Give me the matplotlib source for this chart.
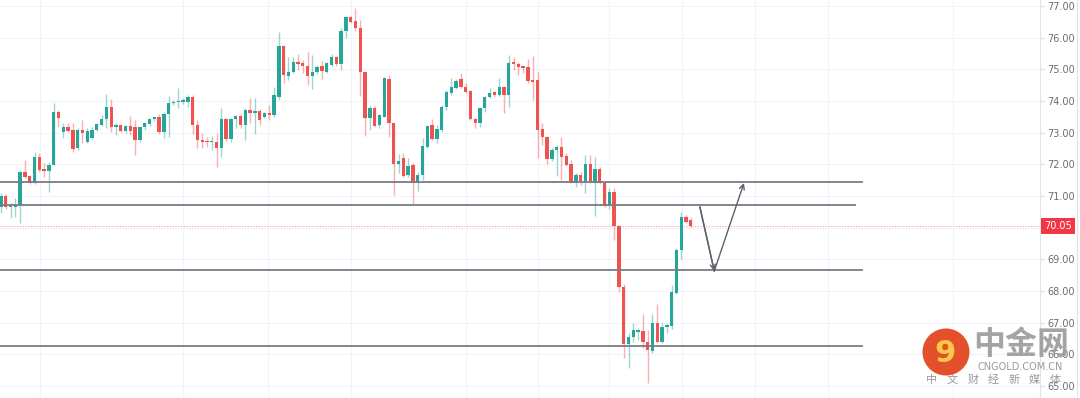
import matplotlib.pyplot as plt
from matplotlib.patches import Circle
from matplotlib.colors import to_rgba
import numpy as np

plt.rcParams['font.family'] = ['DejaVu Sans']

# candle data (one candle per bar, oldest first)
opens = [70.65, 71.00, 70.65, 70.66, 70.70, 71.76, 71.63, 71.41, 72.23, 71.85,
         71.79, 71.98, 73.65, 73.02, 73.18, 73.10, 72.52, 73.10, 72.70, 72.83,
         73.10, 73.24, 73.43, 73.81, 73.18, 73.24, 73.05, 73.20, 73.19, 72.77,
         73.18, 73.27, 73.42, 73.50, 73.03, 73.60, 73.93, 73.96, 73.98, 73.98,
         74.13, 73.24, 72.76, 72.72, 72.70, 72.72, 72.51, 73.42, 72.79, 73.42,
         73.53, 73.24, 73.72, 73.62, 73.70, 73.48, 73.63, 73.56, 74.14, 75.74,
         74.79, 74.93, 75.24, 75.21, 75.10, 74.79, 74.93, 75.10, 74.93, 75.14,
         75.40, 75.16, 76.22, 76.64, 76.54, 76.30, 74.93, 73.45, 73.77, 73.24,
         73.50, 74.69, 73.32, 72.00, 72.19, 71.66, 71.98, 71.41, 71.66, 72.55,
         73.24, 72.80, 73.08, 73.81, 74.25, 74.41, 74.69, 74.44, 74.32, 73.43,
         73.30, 73.78, 74.13, 74.28, 74.19, 74.44, 74.19, 75.23, 75.17, 75.10,
         75.07, 74.66, 74.66, 73.11, 72.86, 72.17, 72.45, 72.55, 72.26, 72.01,
         71.41, 71.66, 71.44, 72.01, 71.41, 71.85, 71.41, 70.72, 71.13, 70.05,
         68.13, 66.33, 66.55, 66.72, 66.74, 66.39, 66.10, 66.99, 66.39, 66.86,
         66.90, 67.94, 69.30, 70.34, 70.24]
highs = [71.10, 71.05, 70.78, 70.94, 71.82, 72.14, 71.66, 72.39, 72.36, 72.04,
         72.07, 73.94, 73.72, 73.30, 73.30, 73.30, 73.14, 73.40, 73.14, 73.18,
         73.30, 73.56, 74.22, 74.06, 73.30, 73.27, 73.24, 73.53, 73.40, 73.22,
         73.35, 73.47, 73.50, 73.58, 73.66, 74.15, 74.02, 74.40, 74.10, 74.20,
         74.18, 73.40, 73.00, 72.85, 72.88, 73.00, 73.78, 73.47, 73.47, 73.56,
         73.58, 73.78, 74.09, 74.09, 73.75, 73.66, 73.87, 74.45, 76.19, 75.77,
         75.38, 75.38, 75.50, 75.29, 75.56, 75.45, 75.15, 75.25, 75.22, 75.50,
         75.43, 76.30, 76.68, 76.69, 76.93, 76.56, 74.95, 73.83, 73.83, 73.60,
         74.75, 74.82, 73.32, 72.33, 72.36, 72.20, 72.04, 71.76, 72.83, 73.24,
         73.43, 73.24, 73.87, 74.35, 74.73, 74.70, 74.88, 74.57, 74.35, 73.45,
         73.81, 74.16, 74.41, 74.32, 74.73, 74.47, 75.45, 75.39, 75.23, 75.14,
         75.33, 75.42, 74.92, 73.30, 72.90, 72.55, 72.61, 72.86, 72.36, 72.14,
         71.72, 71.76, 72.29, 72.29, 72.23, 71.92, 71.44, 71.25, 71.25, 70.08,
         68.22, 66.67, 66.99, 66.83, 67.27, 66.77, 67.27, 67.59, 66.99, 66.99,
         68.19, 69.36, 70.49, 70.40, 70.34]
lows = [70.45, 70.60, 70.30, 70.34, 70.15, 71.57, 71.38, 71.38, 71.76, 71.60,
        71.13, 71.98, 73.18, 72.83, 73.02, 72.39, 72.45, 72.67, 72.67, 72.80,
        73.05, 73.20, 73.14, 73.02, 72.92, 73.02, 72.99, 72.92, 72.29, 72.70,
        73.10, 73.20, 73.38, 72.95, 72.83, 72.85, 73.88, 73.77, 73.90, 73.80,
        72.95, 72.50, 72.50, 72.55, 72.45, 71.93, 72.24, 72.75, 72.72, 73.15,
        73.15, 72.77, 73.30, 72.95, 73.25, 73.45, 73.40, 73.50, 74.03, 74.57,
        74.66, 74.90, 74.98, 74.90, 74.50, 74.37, 74.85, 74.70, 74.90, 75.10,
        75.10, 74.98, 76.00, 76.45, 76.22, 74.15, 72.90, 73.10, 73.18, 73.14,
        73.48, 72.87, 71.03, 71.73, 71.60, 71.60, 70.75, 71.16, 71.50, 72.52,
        72.77, 72.67, 73.02, 73.72, 74.20, 74.38, 74.41, 74.25, 73.40, 73.14,
        73.18, 73.65, 74.10, 74.13, 74.16, 73.62, 73.81, 74.98, 74.82, 74.88,
        74.57, 74.03, 72.20, 72.61, 72.01, 72.10, 71.63, 71.50, 71.95, 71.41,
        71.28, 71.35, 71.09, 71.41, 70.37, 71.38, 70.65, 70.59, 69.61, 67.97,
        65.88, 65.57, 66.39, 66.45, 66.20, 65.09, 66.04, 66.36, 66.36, 66.67,
        66.80, 67.90, 69.00, 70.15, 70.02]
closes = [71.00, 70.65, 70.68, 70.72, 71.76, 71.60, 71.41, 72.23, 71.82, 71.79,
          71.98, 73.65, 73.46, 73.18, 73.05, 72.48, 73.10, 72.99, 73.05, 73.10,
          73.27, 73.43, 73.81, 73.18, 73.24, 73.05, 73.20, 73.05, 72.77, 73.18,
          73.30, 73.43, 73.48, 73.03, 73.60, 73.93, 73.98, 74.01, 74.03, 74.13,
          73.23, 72.76, 72.72, 72.70, 72.74, 72.51, 73.42, 72.79, 73.42, 73.53,
          73.24, 73.72, 73.62, 73.68, 73.40, 73.63, 73.56, 74.19, 75.74, 74.82,
          74.93, 75.24, 75.17, 75.10, 74.79, 74.93, 75.06, 74.96, 75.19, 75.40,
          75.16, 76.22, 76.64, 76.50, 76.30, 74.93, 73.45, 73.77, 73.21, 73.56,
          74.72, 73.30, 72.01, 72.10, 71.63, 71.95, 71.41, 71.66, 72.58, 73.21,
          72.80, 73.12, 73.81, 74.28, 74.44, 74.63, 74.44, 74.28, 73.43, 73.30,
          73.78, 74.13, 74.25, 74.19, 74.44, 74.19, 75.20, 75.17, 75.07, 75.05,
          74.63, 74.60, 73.08, 72.86, 72.17, 72.45, 72.55, 72.23, 71.98, 71.41,
          71.66, 71.47, 72.01, 71.44, 71.85, 71.41, 70.68, 71.13, 70.05, 68.13,
          66.33, 66.55, 66.77, 66.77, 66.39, 66.14, 66.99, 66.39, 66.86, 66.93,
          67.97, 69.30, 70.34, 70.18, 70.05]

# horizontal support / resistance levels and where each one stops (bar index)
levels = [71.44, 70.72, 68.66, 66.26]
level_ends = [179.7, 178.3, 179.7, 179.7]

# hand-drawn arrow path (bar index, price)
arrow_x = [145.9, 148.9, 155.1]
arrow_y = [70.65, 68.63, 71.41]

price_ticks = [65, 66, 67, 68, 69, 71, 72, 73, 74, 75, 76, 77]
vgrid = [8.1, 38, 55.7, 73, 97, 112, 127, 142.2, 157.4, 172.6, 198.8]

up, down = '#26a69a', '#ef5350'

fig = plt.figure(figsize=(10.8, 3.98), dpi=100)
ax = fig.add_axes([0, 0, 1040 / 1080, 1])

x = np.arange(len(opens))
o, h, l, c = map(np.array, (opens, highs, lows, closes))
cols = np.where(c >= o, up, down)

for p in range(65, 78):
    ax.axhline(p, color='#f0f3fa', lw=0.8, zorder=0)
for v in vgrid:
    ax.axvline(v, color='#f0f3fa', lw=0.8, zorder=0)

ax.vlines(x, l, h, colors=[to_rgba(k, 0.45) for k in cols], lw=1.0, zorder=2)
body = np.maximum(np.abs(c - o), 0.04)
ax.bar(x, body, bottom=np.minimum(o, c), width=0.7, color=cols, zorder=3)

for lv, end in zip(levels, level_ends):
    ax.plot([-1, end], [lv, lv], color='#787b86', lw=1.3, zorder=4)

ax.axhline(closes[-1], color='#f7a3a8', lw=0.8, ls=(0, (1, 1.5)), zorder=1)

ax.plot(arrow_x[:2], arrow_y[:2], color='#5d606b', lw=1.0, zorder=5)
ax.annotate('', xy=(arrow_x[1], arrow_y[1]), xytext=(arrow_x[0], arrow_y[0]),
            arrowprops=dict(arrowstyle='->', color='#5d606b', lw=1.0,
                            mutation_scale=9, shrinkA=0, shrinkB=0), zorder=5)
ax.annotate('', xy=(arrow_x[2], arrow_y[2]), xytext=(arrow_x[1], arrow_y[1]),
            arrowprops=dict(arrowstyle='->', color='#5d606b', lw=1.0,
                            mutation_scale=9, shrinkA=0, shrinkB=0), zorder=5)

ax.set_xlim(-0.21, 216.9)
ax.set_ylim(64.62, 77.19)
ax.set_xticks([])
ax.yaxis.tick_right()
ax.set_yticks(price_ticks)
ax.set_yticklabels([f'{p:.2f}' for p in price_ticks])
ax.tick_params(axis='y', length=3, width=0.6, color='#d1d4dc', pad=2,
               labelsize=7, labelcolor='#6a6d78')
for s in ['top', 'left', 'bottom']:
    ax.spines[s].set_visible(False)
ax.spines['right'].set_color('#e0e3eb')
ax.spines['right'].set_linewidth(0.8)

ax.annotate(f'{closes[-1]:.2f}', xy=(1.0, closes[-1]),
            xycoords=('axes fraction', 'data'), xytext=(3, 0),
            textcoords='offset points', ha='left', va='center',
            color='white', fontsize=7,
            bbox=dict(boxstyle='square,pad=0.35', fc='#f23645', ec='none'),
            annotation_clip=False, zorder=6)

# watermark overlay in pixel coordinates
ov = fig.add_axes([0, 0, 1, 1], zorder=10)
ov.set_xlim(0, 1080)
ov.set_ylim(398, 0)
ov.axis('off')
ov.patch.set_alpha(0)
ov.axvline(1077, color='#e0e3eb', lw=0.8)
ov.add_patch(Circle((946, 352), 23.5, fc='#e2461f', ec='none', alpha=0.95))
ov.text(945, 353, '9', ha='center', va='center', fontsize=22,
        fontweight='bold', color='#f9c74a')
ov.text(1021, 345, '中金网', ha='center', va='center', fontsize=23,
        fontweight='bold', color='#9a9a9a', alpha=0.9,
        family=['Noto Sans CJK SC', 'DejaVu Sans'])
ov.text(1020, 366.5, 'CNGOLD.COM.CN', ha='center', va='center', fontsize=7,
        color='#9a9a9a')
for k, ch in enumerate('中文财经新媒体'):
    ov.text(932 + k * 20.5, 380, ch, ha='center', va='center', fontsize=8,
            color='#9a9a9a', family=['Noto Sans CJK SC', 'DejaVu Sans'])

fig.savefig('out.png', dpi=100)
